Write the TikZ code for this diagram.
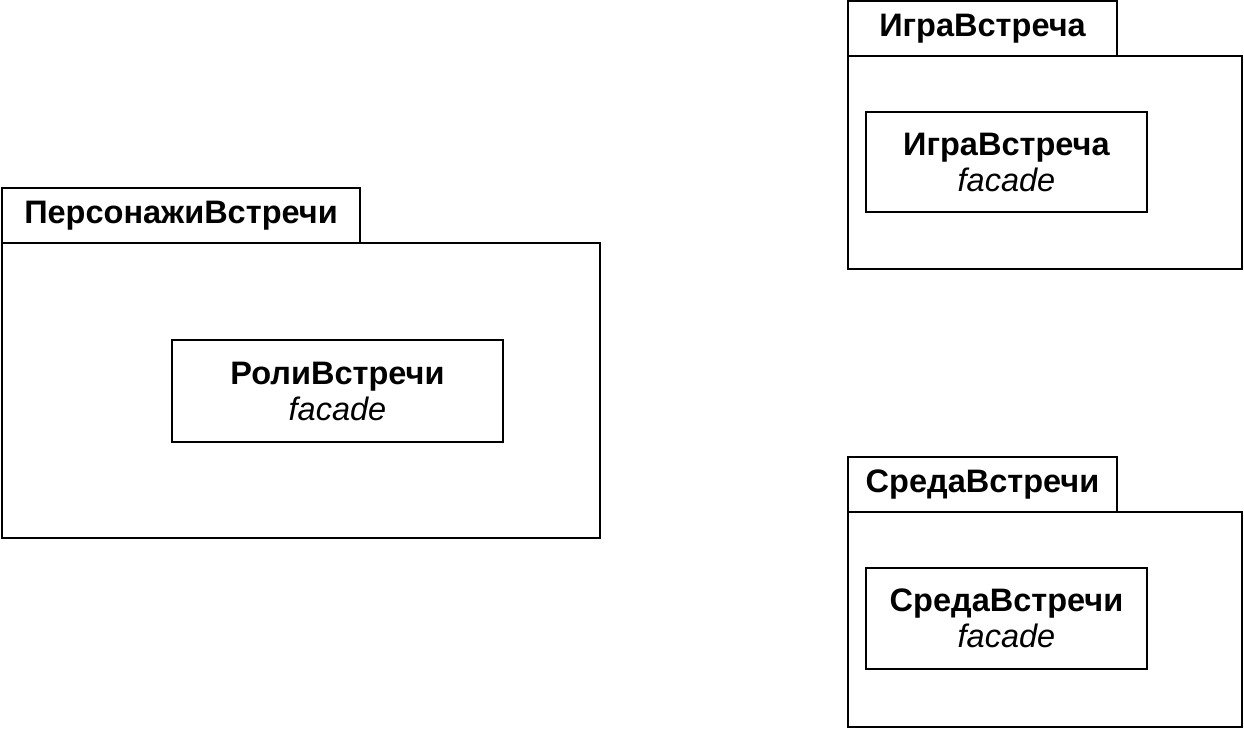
\documentclass[tikz,border=0pt]{standalone}
\usepackage{fontspec}
\setmainfont{Liberation Sans}
\usetikzlibrary{positioning}

\begin{document}
\begin{tikzpicture}[
    font=\fontsize{18.5}{20.5}\selectfont,
    pkgbody/.style={rectangle, draw=black, line width=1.2pt, anchor=north west, outer sep=0pt},
    pkgtab/.style={rectangle, draw=black, line width=1.2pt, anchor=south west, outer sep=0pt, minimum height=1.1cm, font=\fontsize{18.5}{20.5}\selectfont\bfseries},
    facade/.style={rectangle, draw=black, line width=1.2pt, align=center, outer sep=0pt}
]
    \useasboundingbox (0,0) rectangle (24.88,-14.58);

    % ПерсонажиВстречи
    \node[pkgbody, minimum width=11.96cm, minimum height=5.9cm] (persBody) at (0.04,-4.86) {};
    \node[pkgtab, minimum width=7.16cm] (persTab) at (persBody.north west) {ПерсонажиВстречи};
    \node[facade, minimum width=6.62cm, minimum height=2.04cm] (roli) at (6.75,-7.82) {\textbf{РолиВстречи}\\\textit{facade}};

    % ИграВстреча
    \node[pkgbody, minimum width=7.88cm, minimum height=4.26cm] (igraBody) at (16.96,-1.12) {};
    \node[pkgtab, minimum width=5.38cm] (igraTab) at (igraBody.north west) {ИграВстреча};
    \node[facade, minimum width=5.62cm, minimum height=2.0cm] (igra) at (20.13,-3.24) {\textbf{ИграВстреча}\\\textit{facade}};

    % СредаВстречи
    \node[pkgbody, minimum width=7.88cm, minimum height=4.3cm] (sredaBody) at (16.96,-10.24) {};
    \node[pkgtab, minimum width=5.38cm] (sredaTab) at (sredaBody.north west) {СредаВстречи};
    \node[facade, minimum width=5.62cm, minimum height=2.02cm] (sreda) at (20.13,-12.37) {\textbf{СредаВстречи}\\\textit{facade}};
\end{tikzpicture}
\end{document}
